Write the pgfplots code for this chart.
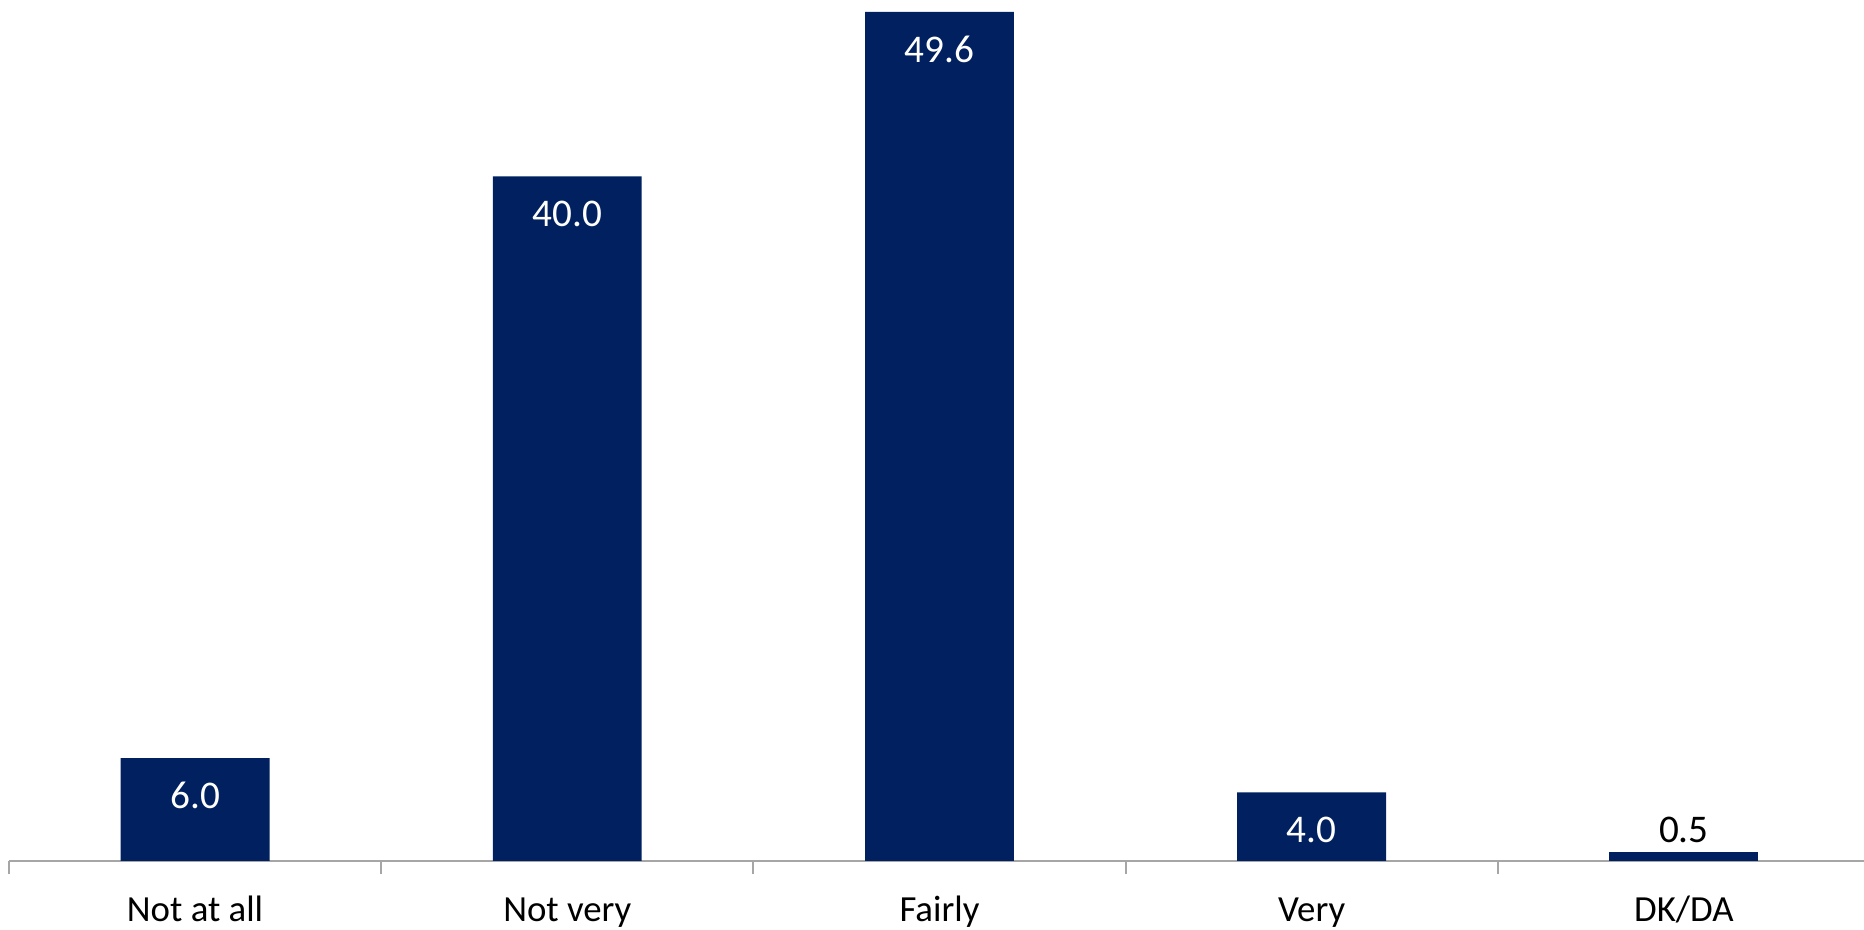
\documentclass[border=0pt]{standalone}
\usepackage{fontspec}
\setmainfont{Carlito}
\usepackage{pgfplots}
\pgfplotsset{compat=1.18}
\definecolor{barblue}{HTML}{002060}
\definecolor{axgray}{HTML}{A6A6A6}
\begin{document}
\begin{tikzpicture}
\path[use as bounding box] (-2.25pt,-17.1pt) rectangle (463.75pt,215.2pt);
\begin{axis}[
  at={(0,0)}, anchor=south west,
  scale only axis,
  width=463.75pt, height=215.2pt,
  xmin=-0.5, xmax=4.484,
  ymin=0, ymax=50.30,
  axis x line*=bottom,
  axis y line=none,
  x axis line style={draw=axgray, line width=0.5pt},
  xtick={0,1,2,3,4},
  xticklabels={Not at all, Not very, Fairly, Very, DK/DA},
  major tick length=0pt,
  minor xtick={-0.5,0.5,1.5,2.5,3.5},
  minor tick length=3.25pt,
  tick align=outside,
  minor tick style={draw=axgray, line width=0.5pt},
  xticklabel style={anchor=base, yshift=-15.25pt, font=\fontsize{9.2}{11}\selectfont, text=black},
  ybar, bar width=0.4,
  nodes near coords,
  /pgf/number format/assume math mode=true,
  /pgf/number format/.cd, fixed, fixed zerofill, precision=1, /pgfplots/.cd,
  clip=false,
]
\addplot[fill=barblue, draw=none, bar shift=0pt,
  every node near coord/.append style={anchor=center, yshift=-9.4pt, text=white, font=\fontsize{9.8}{11}\selectfont}]
  coordinates {(0,6.0) (1,40.0) (2,49.6) (3,4.0)};
\addplot[fill=barblue, draw=none, bar shift=0pt,
  every node near coord/.append style={anchor=center, yshift=5.7pt, text=black, font=\fontsize{9.8}{11}\selectfont}]
  coordinates {(4,0.5)};
\end{axis}
\end{tikzpicture}
\end{document}
